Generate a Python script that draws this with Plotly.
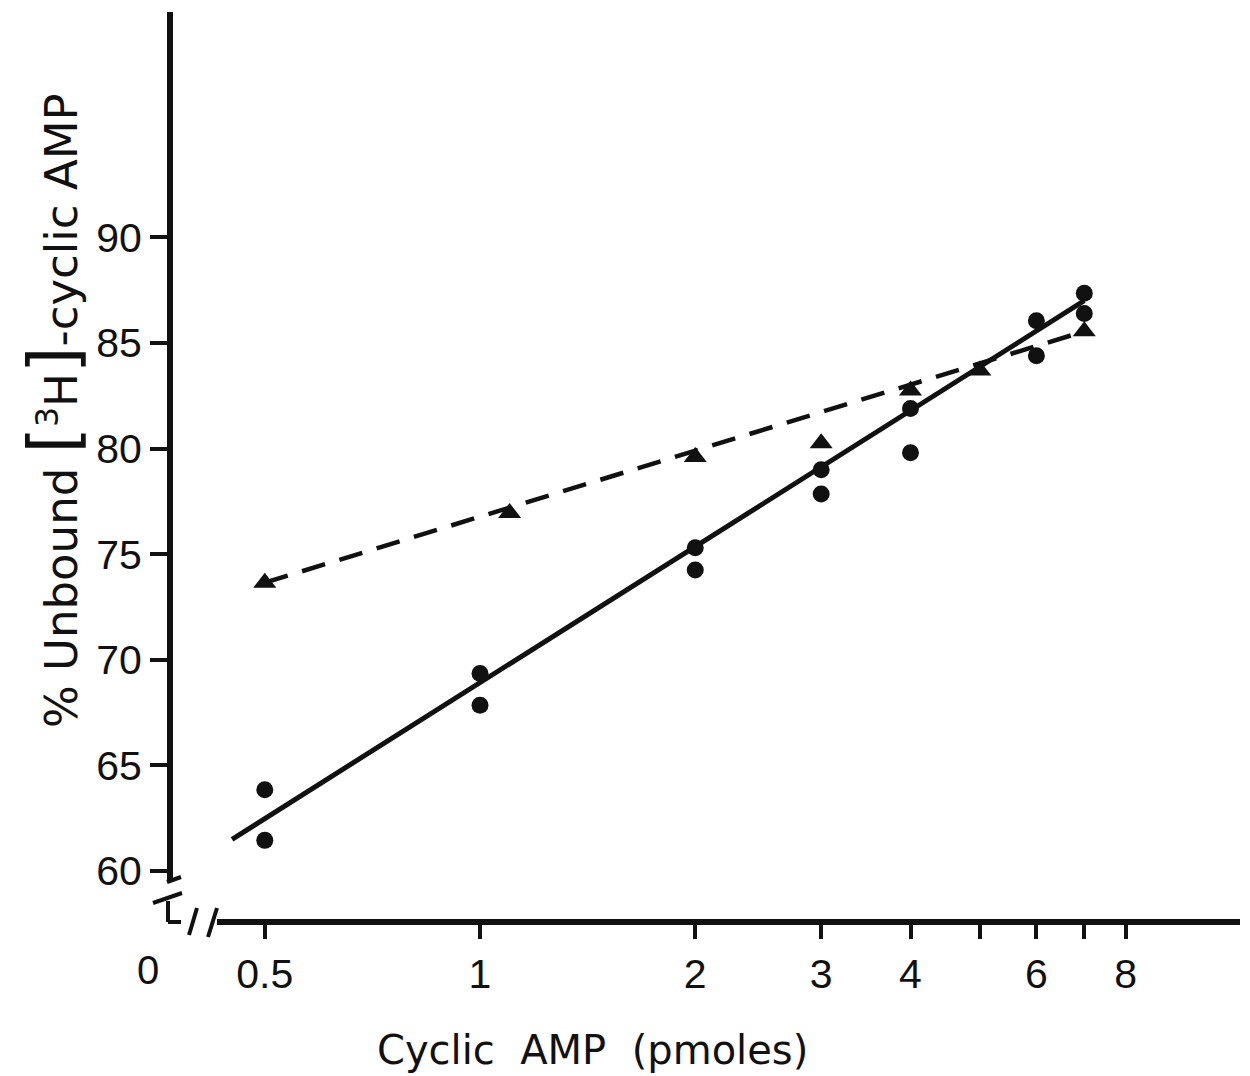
import plotly.graph_objects as go

# ---------------- data ----------------
circle_x = [0.5, 0.5, 1, 1, 2, 2, 3, 3, 4, 4, 6, 6, 7, 7]
circle_y = [63.85, 61.45, 69.35, 67.85, 75.3, 74.25, 79.0, 77.85, 81.9, 79.8, 86.05, 84.4, 87.35, 86.4]

triangle_x = [0.5, 1.1, 2, 3, 4, 5, 7]
triangle_y = [73.65, 76.95, 79.6, 80.25, 82.75, 83.7, 85.55]

solid_fit_x = [0.45, 7]
solid_fit_y = [61.5, 87.0]

dashed_fit_x = [0.5, 7]
dashed_fit_y = [73.65, 85.55]

x_tickvals = [0.5, 1, 2, 3, 4, 6, 8]
x_ticktext = ["0.5", "1", "2", "3", "4", "6", "8"]
x_minor_tickvals = [5, 7]
y_tickvals = [60, 65, 70, 75, 80, 85, 90]
y_ticktext = ["60", "65", "70", "75", "80", "85", "90"]

x_title = "Cyclic  AMP  (pmoles)"
y_title = ("% Unbound <span style='font-size:68px'>[</span><sup>3</sup>H"
           "<span style='font-size:68px'>]</span>-cyclic AMP")

# ---------------- layout geometry ----------------
W_PX, H_PX = 1250, 1076
L, R, T, B = 170, 1240, 12, 922
INK = "#111111"
FONT = "DejaVu Sans"
NUMFONT = "Liberation Sans"


def px(x):
    return (x - L) / (R - L)


def py(y):
    return (B - y) / (B - T)


fig = go.Figure()

fig.add_trace(go.Scatter(
    x=solid_fit_x, y=solid_fit_y, mode="lines",
    line=dict(color=INK, width=5), showlegend=False, hoverinfo="skip"))
fig.add_trace(go.Scatter(
    x=dashed_fit_x, y=dashed_fit_y, mode="lines",
    line=dict(color=INK, width=4.5, dash="24px,15px"), showlegend=False, hoverinfo="skip"))
fig.add_trace(go.Scatter(
    x=circle_x, y=circle_y, mode="markers",
    marker=dict(symbol="circle", size=17, color=INK, line=dict(width=0)),
    showlegend=False))
fig.add_trace(go.Scatter(
    x=triangle_x, y=triangle_y, mode="markers",
    marker=dict(symbol="triangle-up", size=20, color=INK, line=dict(width=0)),
    showlegend=False))

line_style = dict(color=INK, width=6)
thin = dict(color=INK, width=4)
shapes = [
    # y axis line (broken near 60)
    dict(type="line", xref="paper", yref="paper", x0=px(170), x1=px(170), y0=py(882), y1=1, line=line_style),
    # break strokes
    dict(type="line", xref="paper", yref="paper", x0=px(167), x1=px(181), y0=py(882), y1=py(877), line=thin),
    dict(type="line", xref="paper", yref="paper", x0=px(153), x1=px(182), y0=py(903), y1=py(893), line=thin),
    # small L segment
    dict(type="line", xref="paper", yref="paper", x0=px(168), x1=px(168), y0=py(901), y1=py(922), line=thin),
    dict(type="line", xref="paper", yref="paper", x0=px(168), x1=px(181), y0=py(922), y1=py(922), line=thin),
    # slashes on x axis
    dict(type="line", xref="paper", yref="paper", x0=px(189), x1=px(197), y0=py(935), y1=py(908), line=thin),
    dict(type="line", xref="paper", yref="paper", x0=px(208), x1=px(217), y0=py(937), y1=py(908), line=thin),
    # x axis line
    dict(type="line", xref="paper", yref="paper", x0=px(217), x1=1, y0=0, y1=0, line=line_style),
]

annotations = [
    dict(text="0", xref="paper", yref="paper", x=px(148), y=py(970), showarrow=False,
         font=dict(family=NUMFONT, size=40, color=INK), xanchor="center", yanchor="middle"),
    dict(text=x_title, xref="paper", yref="paper", x=px(592), y=py(1050), showarrow=False,
         font=dict(family=FONT, size=40, color=INK), xanchor="center", yanchor="middle"),
    dict(text=y_title, xref="paper", yref="paper", x=px(53), y=py(411), showarrow=False,
         textangle=-90, font=dict(family=FONT, size=45, color=INK), xanchor="center", yanchor="middle"),
]

fig.update_layout(
    width=W_PX, height=H_PX,
    margin=dict(l=L, r=W_PX - R, t=T, b=H_PX - B, pad=0),
    paper_bgcolor="white", plot_bgcolor="white",
    shapes=shapes, annotations=annotations,
    showlegend=False,
    xaxis=dict(type="log", range=[-0.4336, 1.0629], tickvals=x_tickvals, ticktext=x_ticktext,
               ticks="outside", ticklen=16, tickwidth=4, tickcolor=INK,
               minor=dict(tickvals=x_minor_tickvals, ticks="outside", ticklen=16,
                          tickwidth=4, tickcolor=INK, showgrid=False),
               showgrid=False, zeroline=False, showline=False,
               tickfont=dict(family=NUMFONT, size=41, color=INK)),
    yaxis=dict(range=[57.585, 100.67], tickvals=y_tickvals, ticktext=y_ticktext,
               ticks="outside", ticklen=19, tickwidth=4, tickcolor=INK,
               showgrid=False, zeroline=False, showline=False,
               tickfont=dict(family=NUMFONT, size=41, color=INK)),
)

fig.write_html("out.html")
